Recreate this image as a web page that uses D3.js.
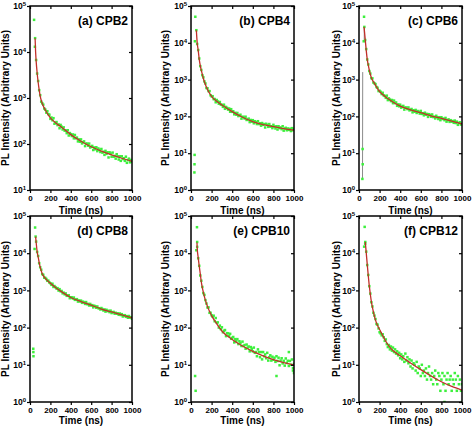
<!DOCTYPE html>
<html><head><meta charset="utf-8">
<script src="https://cdn.jsdelivr.net/npm/d3@7"></script>
<style>body{margin:0;background:#fff}svg{display:block}text{font-family:"Liberation Sans",Arial,sans-serif;font-weight:bold;fill:#000}</style>
</head><body><svg id="c" width="474" height="431"></svg>
<script>
// ---------- data ----------
const times = [60,70,80,90,100,110,120,130,140,150,160,170,180,190,200,210,220,230,240,250,
260,270,280,290,300,310,320,330,340,350,360,370,380,390,400,410,420,430,440,450,
460,470,480,490,500,510,520,530,540,550,560,570,580,590,600,610,620,630,640,650,
660,670,680,690,700,710,720,730,740,750,760,770,780,790,800,810,820,830,840,850,
860,870,880,890,900,910,920,930,940,950,960,970,980,990,1000];

const panelLabels = ["(a) CPB2","(b) CPB4","(c) CPB6","(d) CPB8","(e) CPB10","(f) CPB12"];
const xTicks = [0,200,400,600,800,1000];
const yExpA = [1,2,3,4,5];
const yExpFull = [0,1,2,3,4,5];

const valsA = [6700,3400,2340,1480,1150,835,766,718,590,559,
481,515,446,433,352,376,328,364,276,290,
300,257,266,220,260,238,207,230,195,197,
172,199,153,173,164,149,161,133,157,133,
138,114,126,112,126,103,109,114,90,102,
102,92,102,84,87,91,74,84,77,85,
70,80,75,67,78,65,68,58,71,61,
66,51,66,62,53,65,53,55,48,60,
54,46,54,43,54,47,49,43,53,39,
45,48,40,45,41];
const valsB = [9300,6350,3750,2320,1830,1320,1150,893,784,590,
582,488,486,374,350,354,295,297,242,279,
254,221,246,209,206,182,208,161,181,170,
153,164,134,157,133,138,114,125,111,124,
102,107,111,87,97,97,88,98,80,83,
87,70,80,72,79,65,74,70,62,74,
62,65,56,66,59,62,50,63,59,52,
62,53,54,48,59,53,47,54,44,54,
48,50,45,54,41,47,49,42,47,43,
46,40,48,42,46];
const valsC = [11900,6750,3520,2580,1710,1456,1093,1080,833,790,
755,629,599,488,496,466,404,438,371,359,
320,366,277,309,287,260,279,229,269,230,
239,194,212,188,208,173,184,193,153,174,
174,158,175,146,151,159,129,147,134,150,
124,140,133,119,141,117,122,107,126,111,
117,97,115,109,98,113,96,98,88,104,
95,85,95,79,95,85,87,79,91,72,
79,83,71,79,72,75,67,77,66,72,
59,66,69,60,63];
const valsD = [20500,10800,8400,5380,4200,3600,2740,2630,2190,2170,
2030,1810,1820,1630,1560,1410,1510,1240,1310,1220,
1120,1150,990,1080,947,967,833,870,784,830,
714,726,739,616,655,650,605,643,557,570,
582,501,538,503,532,463,499,478,433,486,
426,433,393,433,394,402,350,388,374,341,
370,332,330,307,336,315,288,308,269,301,
278,282,261,286,246,259,264,237,250,236,
241,221,239,218,230,199,212,216,195,203,
184,205,186,190,173];
const valsE = [14800,7300,4590,2520,1820,1240,846,756,549,444,
348,349,250,250,214,197,209,148,181,136,
138,100,113,91,102,75,82,86,59,71,
70,59,68,50,53,56,40,49,43,49,
36,43,39,32,42,32,34,27,35,29,
31,23,30,27,23,29,21,22,17,26,
22,16,22,14,22,17,19,15,21,13,
16,18,13,16.5,13.7,15.5,12,17,12.7,15.5,
9.7,13,15,10.9,12.8,9.5,14.8,11.2,12.8,9.3,
12.7,10,13.9,8.2,10.5];
const valsF = [18000,11000,4800,2600,1300,820,480,370,250,210,
170,125,120,95,75,70,62,66,55,44,
48,36,30,34,26,31,24,29,22,26,
20,23,18,21,15,19,14,17,12,20,
13,16,11,14,9,13,8,11,10,7,
12,6,9,8,5,10,6,7,5,8,
4,6,9,5,4,6,3,5,7,4,
3,6,5,2,4,6,3,5,2,4,
6,3,4,5,2,4,3,6,4,2,
5,3,4,2,3];

// early / outlying points [time, counts]
const extraA = [[40,50000],[48,13000],[50,20000]];
const extraB = [[42,51000],[38,11000],[52,22000],[35,9],[34,5],[33,3]];
const extraC = [[49,51000],[46,11000],[52,27000],[35,13],[36,5],[33,2]];
const extraD = [[50,49000],[45,13000],[55,28000],[32,27],[33,22],[34,17]];
const extraE = [[58,50000],[52,12000],[60,20000],[40,5],[45,2],[830,5],[950,22],[1000,6],[990,7]];
const extraF = [[55,51000],[50,15000],[61,20000],[830,1],[1000,1]];

// fitted decay curves [time, counts]
const fitA = [[50,20000],[55,10000],[60,6500],[70,3500],[80,2200],[90,1500],[100,1100],[120,760],[150,550],[200,370],[250,290],[300,240],[400,160],[500,115],[600,87],[700,70],[800,58],[900,49],[1000,42]];
const fitB = [[52,22000],[60,10000],[70,6300],[80,3550],[90,2400],[100,1800],[120,1070],[150,620],[200,350],[250,257],[300,204],[400,135],[500,95],[600,72],[700,60],[800,53],[900,46.5],[1000,42.5]];
const fitC = [[49,27000],[60,12600],[70,6300],[80,3550],[90,2500],[100,1800],[120,1120],[150,790],[200,470],[250,355],[300,280],[400,190],[500,151],[600,126],[700,104],[800,88],[900,74],[1000,62]];
const fitD = [[55,28000],[60,20000],[70,11000],[80,8000],[90,5600],[100,4200],[120,2800],[150,2100],[200,1550],[250,1200],[300,955],[400,645],[500,500],[600,400],[700,316],[800,263],[900,219],[1000,182]];
const fitE = [[58,19500],[60,14000],[70,7600],[80,4500],[90,2800],[100,1700],[120,890],[150,440],[200,210],[250,126],[300,81],[400,48],[500,32],[600,23],[700,17.4],[800,13.8],[900,11.5],[1000,10]];
const fitF = [[61,20000],[70,10500],[80,5000],[90,2500],[100,1320],[110,790],[120,500],[130,355],[150,200],[170,132],[190,100],[200,89],[250,48],[300,29.5],[400,17.4],[500,11.2],[600,7.4],[700,5],[800,3.5],[900,2.63],[1000,2.09]];

// raw trace segments (gray) seen in panel (c)
const grayC = [[[34,2],[36,1600]],[[51,11000],[51,27000]]];

// ---------- build ----------
const panels = [
  {label:panelLabels[0], vals:valsA, extra:extraA, fit:fitA, exps:yExpA, gray:[]},
  {label:panelLabels[1], vals:valsB, extra:extraB, fit:fitB, exps:yExpFull, gray:[]},
  {label:panelLabels[2], vals:valsC, extra:extraC, fit:fitC, exps:yExpFull, gray:grayC},
  {label:panelLabels[3], vals:valsD, extra:extraD, fit:fitD, exps:yExpFull, gray:[]},
  {label:panelLabels[4], vals:valsE, extra:extraE, fit:fitE, exps:yExpFull, gray:[]},
  {label:panelLabels[5], vals:valsF, extra:extraF, fit:fitF, exps:yExpFull, gray:[]}
];

const svg = d3.select("#c");
const colX = [[30,132],[191,294],[359,462]];
const rowY = [[6,190],[216,402]];
const yTitleX = [9,169,340];
const xTitleY = [214,424];

panels.forEach((p,i)=>{
  const c = i%3, r = Math.floor(i/3);
  const [x0,x1] = colX[c], [y0,y1] = rowY[r];
  const x = d3.scaleLinear().domain([0,1000]).range([x0,x1]);
  const y = d3.scaleLog().domain([Math.pow(10,p.exps[0]),1e5]).range([y1,y0]);
  const g = svg.append("g");
  const clipId = "clip"+i;
  g.append("clipPath").attr("id",clipId).append("rect")
    .attr("x",x0).attr("y",y0).attr("width",x1-x0).attr("height",y1-y0);
  const pg = g.append("g").attr("clip-path",`url(#${clipId})`);

  p.gray.forEach(seg=>{
    pg.append("path").attr("d", d3.line().x(d=>x(d[0])).y(d=>y(d[1]))(seg))
      .attr("fill","none").attr("stroke","#8c8c8c").attr("stroke-width",1);
  });

  const pts = p.vals.map((v,k)=>[times[k],v]).concat(p.extra);
  pg.selectAll("rect.pt").data(pts).join("rect").attr("class","pt")
    .attr("x",d=>x(d[0])-1.25).attr("y",d=>y(d[1])-1.25)
    .attr("width",2.5).attr("height",2.5).attr("fill","#3cf03c");

  pg.append("path").attr("d", d3.line().curve(d3.curveMonotoneX).x(d=>x(d[0])).y(d=>y(d[1]))(p.fit))
    .attr("fill","none").attr("stroke","#c0302a").attr("stroke-width",1.3);

  const yVals = p.exps.map(e=>Math.pow(10,e));

  // bottom axis
  const gb = g.append("g").attr("transform",`translate(0,${y1})`)
    .call(d3.axisBottom(x).tickValues(xTicks).tickFormat(d3.format("d")).tickSize(3).tickPadding(2));
  gb.select(".domain").remove();
  gb.selectAll(".tick line").attr("stroke","#000").attr("stroke-width",1.2);
  gb.selectAll(".tick text").attr("font-size","8px").attr("font-weight","bold")
    .attr("font-family","'Liberation Sans',Arial,sans-serif");
  // top axis (mirror, inward)
  const gt = g.append("g").attr("transform",`translate(0,${y0})`)
    .call(d3.axisTop(x).tickValues(xTicks).tickSize(-3).tickFormat(""));
  gt.select(".domain").remove();
  gt.selectAll(".tick line").attr("stroke","#000").attr("stroke-width",1.2);

  // left axis
  const gl = g.append("g").attr("transform",`translate(${x0},0)`)
    .call(d3.axisLeft(y).tickValues(yVals).tickSize(3).tickPadding(1));
  gl.select(".domain").remove();
  gl.selectAll(".tick line").attr("stroke","#000").attr("stroke-width",1.2);
  gl.selectAll(".tick text").each(function(d){
    const t = d3.select(this);
    t.text("").attr("font-size","8.5px").attr("font-weight","bold")
     .attr("font-family","'Liberation Sans',Arial,sans-serif");
    t.append("tspan").text("10");
    t.append("tspan").attr("dy","-0.5em").attr("font-size","6px").text(Math.round(Math.log10(d)));
  });
  // right axis (mirror, inward)
  const gr = g.append("g").attr("transform",`translate(${x1},0)`)
    .call(d3.axisRight(y).tickValues(yVals).tickSize(-3).tickFormat(""));
  gr.select(".domain").remove();
  gr.selectAll(".tick line").attr("stroke","#000").attr("stroke-width",1.2);

  // frame
  g.append("rect").attr("x",x0).attr("y",y0).attr("width",x1-x0).attr("height",y1-y0)
    .attr("fill","none").attr("stroke","#000").attr("stroke-width",1.5);

  // panel label
  g.append("text").attr("x",x1-4).attr("y",y0+19).attr("text-anchor","end")
    .attr("font-size","12px").text(p.label);

  // axis titles
  g.append("text").attr("x",(x0+x1)/2).attr("y",xTitleY[r]).attr("text-anchor","middle")
    .attr("font-size","10px").text("Time (ns)");
  g.append("text").attr("transform",`translate(${yTitleX[c]},${(y0+y1)/2}) rotate(-90)`)
    .attr("text-anchor","middle").attr("font-size","10px").text("PL Intensity (Arbitrary Units)");
});
</script></body></html>
